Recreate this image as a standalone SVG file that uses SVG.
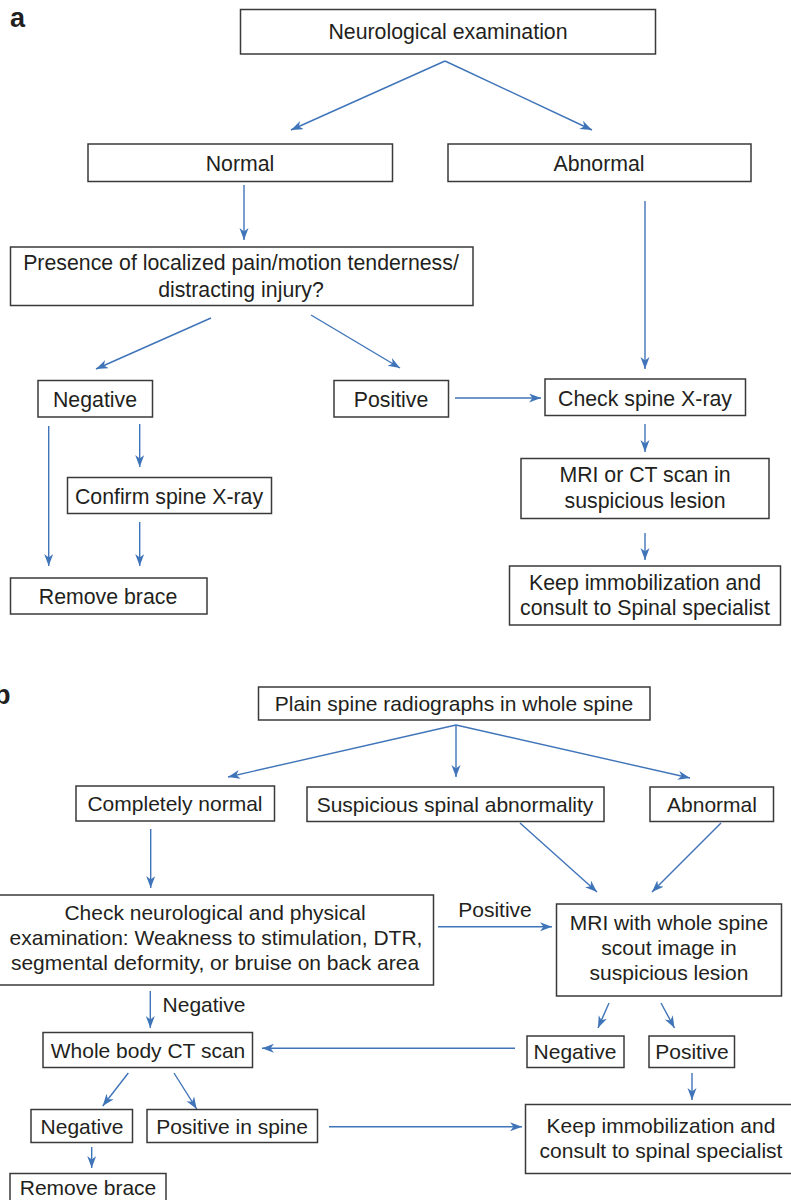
<svg xmlns="http://www.w3.org/2000/svg" width="791" height="1200" viewBox="0 0 791 1200">
<defs>
<style>
.box{fill:#fff;stroke:#3a3a3a;stroke-width:1.5}
.t{font-family:"Liberation Sans",Arial,sans-serif;font-size:21.3px;fill:#231f20;text-anchor:middle}
.tb{font-family:"Liberation Sans",Arial,sans-serif;font-size:21px;fill:#231f20;text-anchor:middle}
.lbl{font-family:"Liberation Sans",Arial,sans-serif;font-size:27px;font-weight:bold;fill:#231f20}
.c line{stroke:#3f74b9;stroke-width:1.4;fill:none;marker-end:url(#ah)}
</style>
<marker id="ah" markerUnits="userSpaceOnUse" markerWidth="14" markerHeight="10" refX="12" refY="4.5" orient="auto">
<path d="M0,0 L12,4.5 L0,9 L3.5,4.5 z" fill="#3f74b9"/>
</marker>
</defs>
<rect width="791" height="1200" fill="#fff"/>
<text class="lbl" x="10" y="26.5">a</text>
<text class="lbl" x="-6" y="704">b</text>

<g class="c">
<line x1="445" y1="61" x2="291" y2="130"/>
<line x1="445" y1="61" x2="592" y2="130"/>
<line x1="244" y1="185" x2="244" y2="240"/>
<line x1="645" y1="201" x2="645" y2="369"/>
<line x1="211" y1="318" x2="96" y2="369"/>
<line x1="311" y1="315" x2="400" y2="368"/>
<line x1="455" y1="398" x2="541" y2="398"/>
<line x1="645" y1="424" x2="645" y2="452"/>
<line x1="645" y1="533" x2="645" y2="560"/>
<line x1="48.7" y1="426" x2="48.7" y2="566"/>
<line x1="139.7" y1="424" x2="139.7" y2="467"/>
<line x1="139.7" y1="522" x2="139.7" y2="566"/>

<line x1="456" y1="725" x2="228" y2="777"/>
<line x1="456" y1="725" x2="456" y2="777"/>
<line x1="456" y1="725" x2="690" y2="778"/>
<line x1="150.7" y1="829" x2="150.7" y2="888"/>
<line x1="520" y1="823" x2="597" y2="892"/>
<line x1="721" y1="823" x2="652" y2="892"/>
<line x1="438" y1="926.7" x2="552" y2="926.7"/>
<line x1="150.3" y1="991" x2="150.3" y2="1028"/>
<line x1="609" y1="1003" x2="598" y2="1028"/>
<line x1="661" y1="1003" x2="674.5" y2="1028"/>
<line x1="515" y1="1048.3" x2="262" y2="1048.3"/>
<line x1="692" y1="1073" x2="692" y2="1100"/>
<line x1="128.3" y1="1073" x2="102.7" y2="1106"/>
<line x1="174" y1="1073" x2="196.7" y2="1109"/>
<line x1="329" y1="1126.7" x2="522" y2="1126.7"/>
<line x1="91.7" y1="1147" x2="91.7" y2="1168"/>
</g>

<g id="n-neuro"><rect class="box" x="240.5" y="9.5" width="415" height="44.5"/><text class="t" x="448" y="39">Neurological examination</text></g>
<g id="n-normal"><rect class="box" x="88" y="144" width="304.5" height="37.5"/><text class="t" x="240" y="170.5">Normal</text></g>
<g id="n-abnormal"><rect class="box" x="448" y="144" width="303" height="37.5"/><text class="t" x="599" y="170.5">Abnormal</text></g>
<g id="n-presence"><rect class="box" x="10.5" y="247" width="462.5" height="58.5"/><text class="t" x="241" y="270">Presence of localized pain/motion tenderness/</text><text class="t" x="241" y="297">distracting injury?</text></g>
<g id="n-neg-a"><rect class="box" x="38" y="380.5" width="114.5" height="36.5"/><text class="t" x="95" y="406.5">Negative</text></g>
<g id="n-pos-a"><rect class="box" x="334" y="380.5" width="114.5" height="36.5"/><text class="t" x="391" y="406.5">Positive</text></g>
<g id="n-check"><rect class="box" x="545" y="379" width="200.5" height="36.5"/><text class="t" x="645" y="405.5">Check spine X-ray</text></g>
<g id="n-mri-ct"><rect class="box" x="521" y="458.5" width="248" height="60"/><text class="t" x="645" y="482">MRI or CT scan in</text><text class="t" x="645" y="507.5">suspicious lesion</text></g>
<g id="n-keep-a"><rect class="box" x="509.5" y="566" width="271" height="59"/><text class="t" x="645" y="590">Keep immobilization and</text><text class="t" x="645" y="615">consult to Spinal specialist</text></g>
<g id="n-confirm"><rect class="box" x="67.5" y="477.5" width="204" height="36"/><text class="t" x="169" y="503.5">Confirm spine X-ray</text></g>
<g id="n-remove-a"><rect class="box" x="10.5" y="578" width="196.5" height="36"/><text class="t" x="108" y="604">Remove brace</text></g>

<g id="n-plain"><rect class="box" x="258.5" y="687" width="391.5" height="33"/><text class="tb" x="454" y="711">Plain spine radiographs in whole spine</text></g>
<g id="n-compnormal"><rect class="box" x="76" y="786" width="198.5" height="35"/><text class="tb" x="175" y="811">Completely normal</text></g>
<g id="n-suspicious"><rect class="box" x="307" y="787" width="297" height="34.5"/><text class="tb" x="455" y="812">Suspicious spinal abnormality</text></g>
<g id="n-abnormal-b"><rect class="box" x="650" y="787" width="123.5" height="34.5"/><text class="tb" x="712" y="812">Abnormal</text></g>
<g id="n-checkneuro"><rect class="box" x="-3" y="895" width="436.5" height="90"/><text class="tb" x="215" y="920">Check neurological and physical</text><text class="tb" x="216" y="945">examination: Weakness to stimulation, DTR,</text><text class="tb" x="215" y="970">segmental deformity, or bruise on back area</text></g>
<text class="tb" x="495" y="917">Positive</text>
<g id="n-mriwhole"><rect class="box" x="556.5" y="904" width="225" height="92"/><text class="tb" x="669" y="930">MRI with whole spine</text><text class="tb" x="669" y="955">scout image in</text><text class="tb" x="669" y="980">suspicious lesion</text></g>
<text class="tb" x="204" y="1012">Negative</text>
<g id="n-wholect"><rect class="box" x="43" y="1032.5" width="209.5" height="35"/><text class="tb" x="148" y="1058">Whole body CT scan</text></g>
<g id="n-neg-b2"><rect class="box" x="527" y="1036" width="97" height="31.5"/><text class="tb" x="575" y="1059">Negative</text></g>
<g id="n-pos-b2"><rect class="box" x="649" y="1036" width="85.5" height="31.5"/><text class="tb" x="692" y="1059">Positive</text></g>
<g id="n-neg-b"><rect class="box" x="31" y="1109.5" width="101.5" height="33"/><text class="tb" x="82" y="1134">Negative</text></g>
<g id="n-posspine"><rect class="box" x="147" y="1109.5" width="170.5" height="33"/><text class="tb" x="232" y="1134">Positive in spine</text></g>
<g id="n-keep-b"><rect class="box" x="525.5" y="1104.5" width="268" height="69"/><text class="tb" x="661" y="1133">Keep immobilization and</text><text class="tb" x="661" y="1158">consult to spinal specialist</text></g>
<g id="n-remove-b"><rect class="box" x="10" y="1173.5" width="156" height="40"/><text class="tb" x="88" y="1195">Remove brace</text></g>
</svg>
